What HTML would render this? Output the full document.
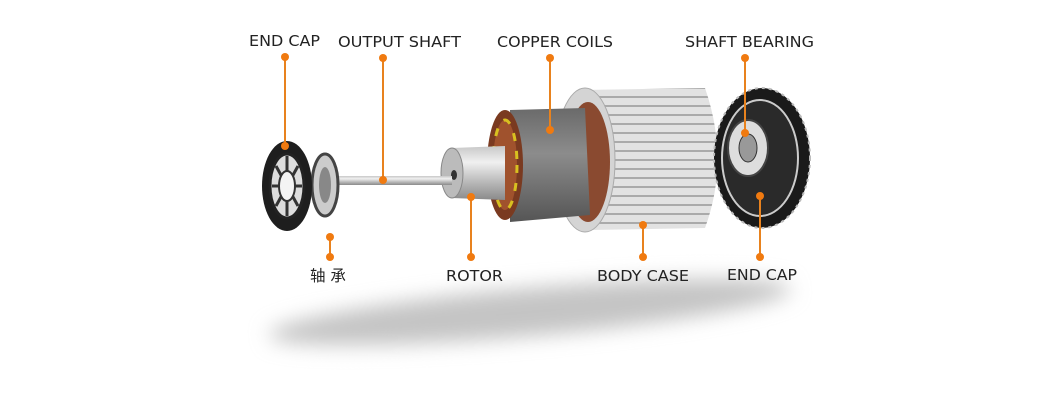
<!DOCTYPE html>
<html><head><meta charset="utf-8"><style>
html,body{margin:0;padding:0;background:#fff;}
svg{display:block}
text{font-family:"DejaVu Sans","Noto Sans CJK SC",sans-serif;font-size:15.5px;fill:#222;}
</style></head><body>
<svg width="1060" height="418" viewBox="0 0 1060 418" xmlns="http://www.w3.org/2000/svg">
<defs>
<filter id="bl" x="-20%" y="-100%" width="140%" height="300%"><feGaussianBlur stdDeviation="10"/></filter>
<linearGradient id="metal" x1="0" y1="0" x2="0" y2="1">
<stop offset="0" stop-color="#c8c8c8"/><stop offset="0.3" stop-color="#f0f0f0"/><stop offset="0.7" stop-color="#b4b4b4"/><stop offset="1" stop-color="#8a8a8a"/></linearGradient>
<linearGradient id="stat" x1="0" y1="0" x2="0" y2="1">
<stop offset="0" stop-color="#6a6a6a"/><stop offset="0.4" stop-color="#8c8c8c"/><stop offset="1" stop-color="#555"/></linearGradient>
<pattern id="fins" width="10" height="9" patternUnits="userSpaceOnUse">
<rect width="10" height="9" fill="#e2e2e2"/><rect y="6" width="10" height="2" fill="#aaa"/></pattern>
</defs>
<ellipse cx="530" cy="312" rx="262" ry="24" transform="rotate(-5 530 312)" fill="#c4c4c4" filter="url(#bl)"/>
<path d="M580 90 L705 88 Q730 160 705 228 L590 230 Z" fill="url(#fins)"/>
<ellipse cx="585" cy="160" rx="30" ry="72" fill="#d4d4d4" stroke="#aaa"/>
<ellipse cx="588" cy="162" rx="22" ry="60" fill="#8a4a30"/>
<path d="M510 110 L585 108 L590 215 L510 222 Z" fill="url(#stat)"/>
<ellipse cx="505" cy="165" rx="18" ry="55" fill="#7a3a20"/>
<ellipse cx="505" cy="165" rx="12" ry="45" fill="#a0522d" stroke="#d8c020" stroke-width="3" stroke-dasharray="8 10"/>
<path d="M452 148 L505 146 L505 200 L452 198 Z" fill="url(#metal)"/>
<ellipse cx="452" cy="173" rx="11" ry="25" fill="#bbb" stroke="#888"/>
<ellipse cx="454" cy="175" rx="3" ry="5" fill="#333"/>
<rect x="330" y="176" width="122" height="9" fill="url(#metal)"/>
<ellipse cx="325" cy="185" rx="13" ry="31" fill="#ccc" stroke="#444" stroke-width="3"/>
<ellipse cx="325" cy="185" rx="6" ry="18" fill="#888"/>
<ellipse cx="287" cy="186" rx="25" ry="45" fill="#1e1e1e"/>
<ellipse cx="287" cy="186" rx="17" ry="32" fill="#ddd" stroke="#222" stroke-width="3"/>
<path d="M287 156 V216 M272 186 H302 M276 166 L298 206 M298 166 L276 206" stroke="#333" stroke-width="3"/>
<ellipse cx="287" cy="186" rx="8" ry="15" fill="#f4f4f4" stroke="#333" stroke-width="2"/>
<ellipse cx="762" cy="158" rx="48" ry="70" fill="#1a1a1a" stroke="#bbb" stroke-width="2" stroke-dasharray="3 4"/>
<ellipse cx="760" cy="158" rx="38" ry="58" fill="#2a2a2a" stroke="#ccc" stroke-width="2"/>
<ellipse cx="748" cy="148" rx="20" ry="28" fill="#ddd" stroke="#444" stroke-width="2"/>
<ellipse cx="748" cy="148" rx="9" ry="14" fill="#999" stroke="#333"/>
<g stroke="#e8821e" stroke-width="2">
<line x1="285" y1="57" x2="285" y2="146"/><line x1="383" y1="58" x2="383" y2="180"/>
<line x1="550" y1="58" x2="550" y2="130"/><line x1="745" y1="58" x2="745" y2="133"/>
<line x1="330" y1="237" x2="330" y2="257"/><line x1="471" y1="197" x2="471" y2="257"/>
<line x1="643" y1="225" x2="643" y2="257"/><line x1="760" y1="196" x2="760" y2="257"/>
</g>
<g fill="#f07a10">
<circle cx="285" cy="57" r="4"/><circle cx="285" cy="146" r="4"/>
<circle cx="383" cy="58" r="4"/><circle cx="383" cy="180" r="4"/>
<circle cx="550" cy="58" r="4"/><circle cx="550" cy="130" r="4"/>
<circle cx="745" cy="58" r="4"/><circle cx="745" cy="133" r="4"/>
<circle cx="330" cy="237" r="4"/><circle cx="330" cy="257" r="4"/>
<circle cx="471" cy="197" r="4"/><circle cx="471" cy="257" r="4"/>
<circle cx="643" cy="225" r="4"/><circle cx="643" cy="257" r="4"/>
<circle cx="760" cy="196" r="4"/><circle cx="760" cy="257" r="4"/>
</g>
<text x="249" y="46" textLength="71" lengthAdjust="spacingAndGlyphs">END CAP</text>
<text x="338" y="47" textLength="123" lengthAdjust="spacingAndGlyphs">OUTPUT SHAFT</text>
<text x="497" y="47" textLength="116" lengthAdjust="spacingAndGlyphs">COPPER COILS</text>
<text x="685" y="47" textLength="129" lengthAdjust="spacingAndGlyphs">SHAFT BEARING</text>
<text x="310" y="281">轴 承</text>
<text x="446" y="281" textLength="57" lengthAdjust="spacingAndGlyphs">ROTOR</text>
<text x="597" y="281" textLength="92" lengthAdjust="spacingAndGlyphs">BODY CASE</text>
<text x="727" y="280" textLength="70" lengthAdjust="spacingAndGlyphs">END CAP</text>
</svg>
</body></html>
